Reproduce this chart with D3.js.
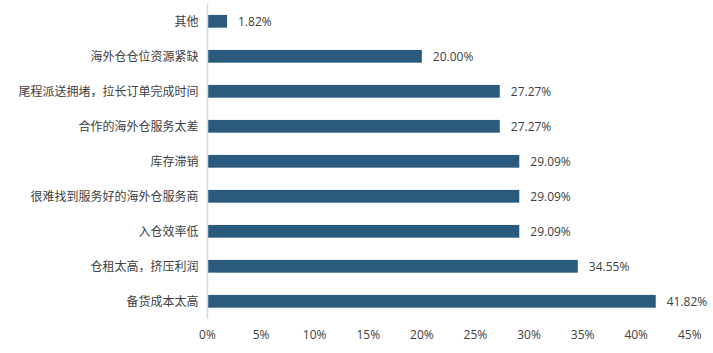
<!DOCTYPE html>
<html><head><meta charset="utf-8">
<script src="https://cdn.jsdelivr.net/npm/d3@7"></script>
<style>body{margin:0;background:#fff;} text{font-family:"Noto Sans CJK SC","Noto Sans",sans-serif;} text.num{font-family:"Open Sans","Noto Sans",sans-serif;}</style>
</head><body><svg id="c" width="713" height="353"></svg>
<script>
const categories = ["其他","海外仓仓位资源紧缺","尾程派送拥堵，拉长订单完成时间","合作的海外仓服务太差","库存滞销","很难找到服务好的海外仓服务商","入仓效率低","仓租太高，挤压利润","备货成本太高"];
const values = [1.82,20.00,27.27,27.27,29.09,29.09,29.09,34.55,41.82];
const xTicks = [0,5,10,15,20,25,30,35,40,45];

const svg = d3.select("#c");
const x = d3.scaleLinear().domain([0,45]).range([207.5,689.8]);
const y = d3.scaleBand().domain(categories).range([3.8,318.8]).paddingInner(0.636).paddingOuter(0.318);
const textColor = "#404040";

// bars
svg.selectAll("rect.bar").data(values).enter().append("rect")
  .attr("x", x(0)).attr("y",(d,i)=>y(categories[i]))
  .attr("width", d=>x(d)-x(0)).attr("height", y.bandwidth())
  .attr("fill","#2a5a7e");

// vertical axis line
svg.append("line").attr("x1",x(0)).attr("x2",x(0)).attr("y1",3.8).attr("y2",318.8)
  .attr("stroke","#d9d9d9").attr("stroke-width",1.5);

// category labels
svg.selectAll("text.cat").data(categories).enter().append("text")
  .attr("x",198.5).attr("y",d=>y(d)+y.bandwidth()/2).attr("dy","0.35em")
  .attr("text-anchor","end").attr("font-size",12).attr("fill",textColor).text(d=>d);

// value labels
svg.selectAll("text.val").data(values).enter().append("text").attr("class","num")
  .attr("y",(d,i)=>y(categories[i])+y.bandwidth()/2).attr("dy","0.35em")
  .attr("font-size",12).attr("fill",textColor).text(d=>d.toFixed(2)+"%")
  .each(function(d){
    const w = this.getComputedTextLength();
    let px = x(d)+11;
    if (px + w > 708) px = x(d)+4;
    d3.select(this).attr("x",px);
  });

// x axis tick labels
svg.selectAll("text.tick").data(xTicks).enter().append("text").attr("class","num")
  .attr("x",d=>x(d)).attr("y",335).attr("dy","0.35em").attr("text-anchor","middle")
  .attr("font-size",12).attr("fill",textColor).text(d=>d+"%");
</script></body></html>
